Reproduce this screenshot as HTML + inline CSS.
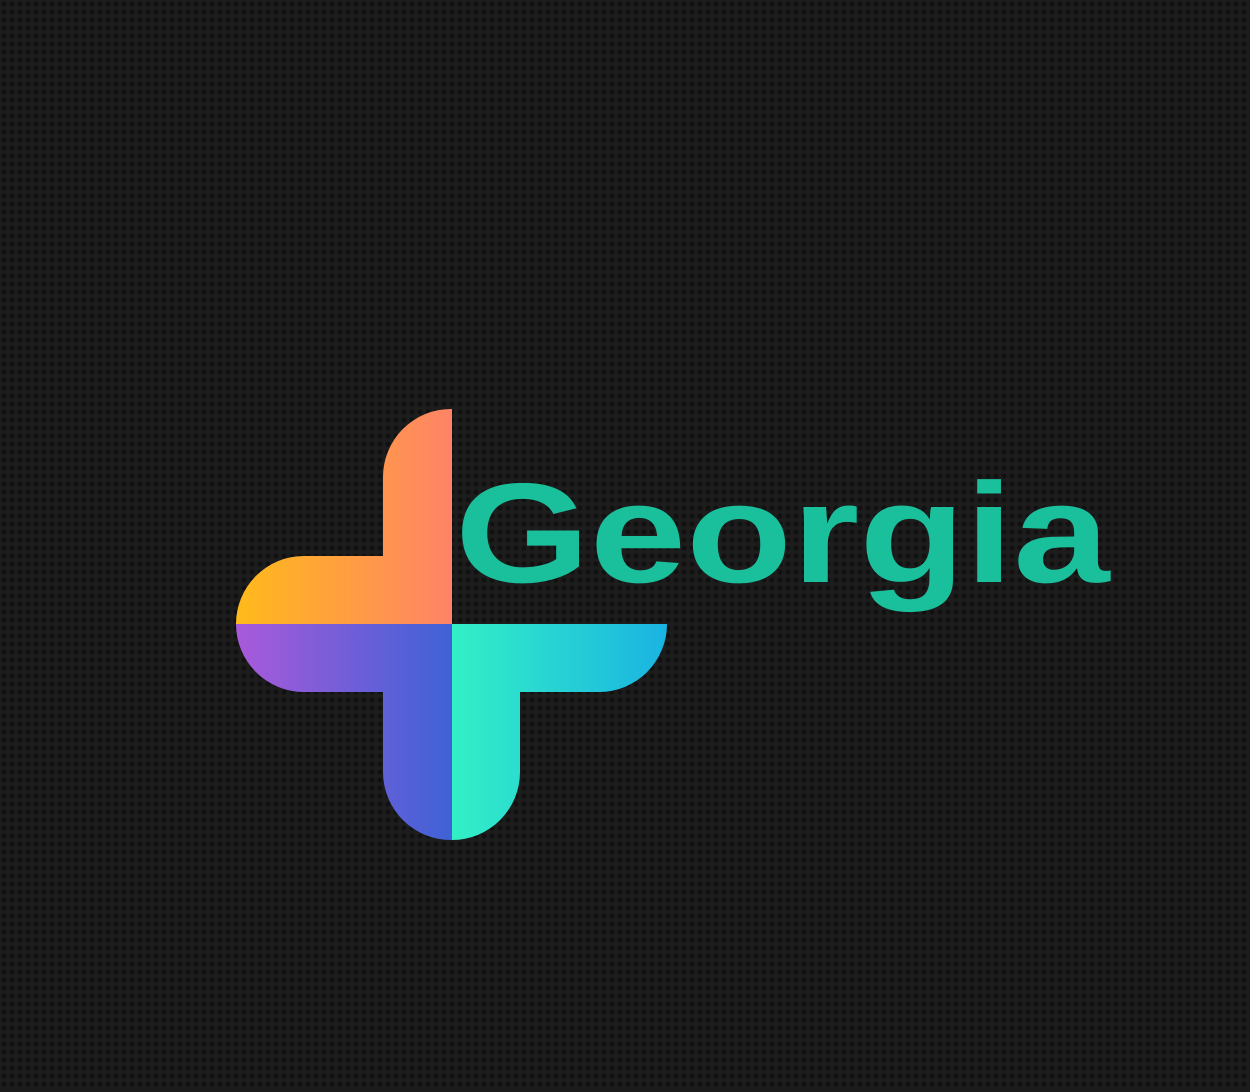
<!DOCTYPE html>
<html><head><meta charset="utf-8">
<style>
html,body{margin:0;padding:0;}
body{width:1250px;height:1087px;overflow:hidden;background:#1b1b1b;}
</style></head>
<body>
<svg width="1250" height="1087" viewBox="0 0 1250 1087" xmlns="http://www.w3.org/2000/svg">
<defs>
<pattern id="dots" width="8" height="8" patternUnits="userSpaceOnUse">
<rect width="8" height="8" fill="#1d1d1d"/>
<circle cx="4" cy="4" r="2.6" fill="#111111"/>
</pattern>
<linearGradient id="gOr" x1="236" y1="0" x2="452" y2="0" gradientUnits="userSpaceOnUse">
<stop offset="0" stop-color="#FFBA1A"/><stop offset="1" stop-color="#FF8367"/></linearGradient>
<linearGradient id="gPu" x1="236" y1="0" x2="452" y2="0" gradientUnits="userSpaceOnUse">
<stop offset="0" stop-color="#A95ADA"/><stop offset="1" stop-color="#3E62D6"/></linearGradient>
<linearGradient id="gTe" x1="452" y1="0" x2="667" y2="0" gradientUnits="userSpaceOnUse">
<stop offset="0" stop-color="#33F0C6"/><stop offset="1" stop-color="#1AB3E2"/></linearGradient>
</defs>
<rect width="1250" height="1087" fill="url(#dots)"/>
<path fill="url(#gOr)" d="M452,409 L452,624 L236,624 A68,68 0 0 1 304,556 L383,556 L383,477 A68,68 0 0 1 451,409 Z"/>
<path fill="url(#gPu)" d="M236,624 L452,624 L452,840 A68,68 0 0 1 383,772 L383,692 L304,692 A68,68 0 0 1 236,624 Z"/>
<path fill="url(#gTe)" d="M452,624 L667,624 A68,68 0 0 1 599,692 L520,692 L520,772 A68,68 0 0 1 452,840 Z"/>
<text x="0" y="0" transform="translate(455,582) scale(1.22,1)" font-family="'Liberation Sans',sans-serif" font-weight="bold" font-size="142" fill="#1ABF9C">Georgia</text>
</svg>
</body></html>
